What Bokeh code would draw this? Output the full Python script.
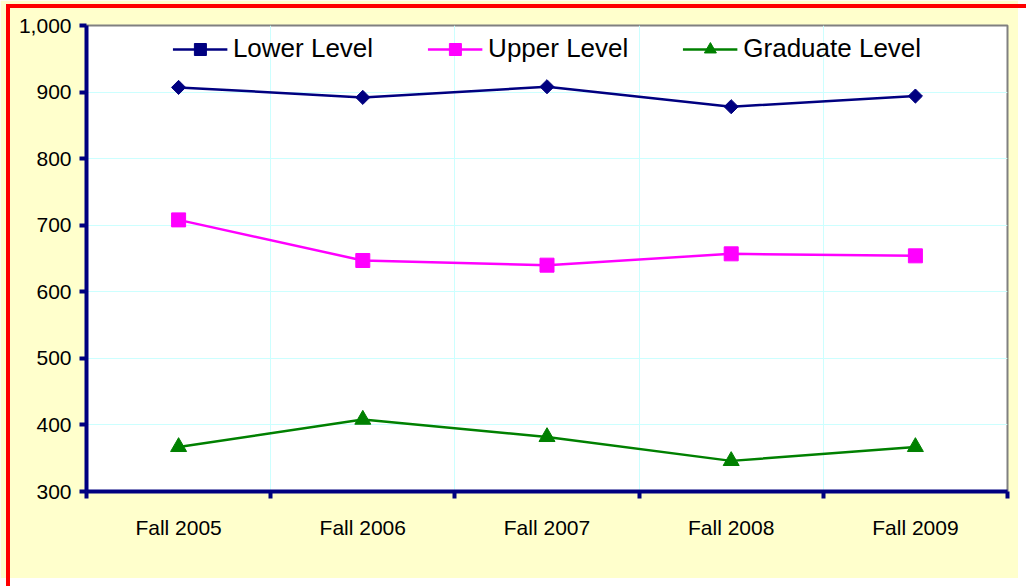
from bokeh.plotting import figure
from bokeh.models import (Range1d, FixedTicker, NumeralTickFormatter, Legend,
                          LegendItem)
from bokeh.embed import file_html
from bokeh.resources import INLINE

categories = ["Fall 2005", "Fall 2006", "Fall 2007", "Fall 2008", "Fall 2009"]
lower_level = [907, 892, 908, 878, 894]
upper_level = [708, 647, 640, 657, 654]
graduate_level = [367, 408, 382, 346, 367]
y_ticks = [300, 400, 500, 600, 700, 800, 900, 1000]

xs = [i + 0.5 for i in range(len(categories))]
bounds = [i for i in range(len(categories) + 1)]

FONT = "Liberation Sans"
NAVY = "#000080"

p = figure(width=1018, height=578, output_backend="svg", toolbar_location=None,
           x_range=Range1d(0, len(categories)), y_range=Range1d(300, 1000),
           min_border_left=86, min_border_top=25, min_border_right=11,
           min_border_bottom=87)
p.border_fill_color = "#FFFFCC"
p.background_fill_color = "#FFFFFF"
p.outline_line_color = "#808080"
p.outline_line_width = 2

# x axis: labels at category centres, ticks at boundaries (minor ticks)
xt = FixedTicker(ticks=xs, minor_ticks=bounds)
p.xaxis.ticker = xt
p.xaxis.major_label_overrides = {x: c for x, c in zip(xs, categories)}
p.xaxis.major_tick_line_color = None
p.xaxis.major_tick_out = 0
p.xaxis.major_tick_in = 0
p.xaxis.minor_tick_line_color = NAVY
p.xaxis.minor_tick_line_width = 4
p.xaxis.minor_tick_out = 7
p.xaxis.minor_tick_in = 0
p.xaxis.major_label_standoff = 17
p.xaxis.axis_line_color = NAVY
p.xaxis.axis_line_width = 4
p.xaxis.major_label_text_font = FONT
p.xaxis.major_label_text_font_size = "21px"
p.xaxis.major_label_text_color = "#000000"

p.yaxis.ticker = FixedTicker(ticks=y_ticks)
p.yaxis.formatter = NumeralTickFormatter(format="0,0")
p.yaxis.major_tick_line_color = NAVY
p.yaxis.major_tick_line_width = 4
p.yaxis.major_tick_out = 7
p.yaxis.major_tick_in = 0
p.yaxis.minor_tick_line_color = None
p.yaxis.axis_line_color = NAVY
p.yaxis.axis_line_width = 4
p.yaxis.major_label_standoff = 8
p.yaxis.major_label_text_font = FONT
p.yaxis.major_label_text_font_size = "21px"
p.yaxis.major_label_text_color = "#000000"

p.xgrid.ticker = xt
p.xgrid.grid_line_color = None
p.xgrid.minor_grid_line_color = "#CCFFFF"
p.xgrid.minor_grid_line_width = 1
p.ygrid.grid_line_color = "#CCFFFF"
p.ygrid.grid_line_width = 1

r1l = p.line(xs, lower_level, line_color=NAVY, line_width=2.5)
r1m = p.scatter(xs, lower_level, marker="square", angle=0.785398, size=10,
                fill_color=NAVY, line_color=NAVY)
r2l = p.line(xs, upper_level, line_color="#FF00FF", line_width=2.5)
r2m = p.scatter(xs, upper_level, marker="square", size=14,
                fill_color="#FF00FF", line_color="#FF00FF")
r3l = p.line(xs, graduate_level, line_color="#008000", line_width=2.5)
r3m = p.scatter(xs, graduate_level, marker="triangle", size=16,
                fill_color="#008000", line_color="#008000")

legend = Legend(items=[
    LegendItem(label="Lower Level", renderers=[r1l, r1m]),
    LegendItem(label="Upper Level", renderers=[r2l, r2m]),
    LegendItem(label="Graduate Level", renderers=[r3l, r3m]),
], location="top_center", orientation="horizontal")
legend.padding = 0
legend.margin = 8
legend.spacing = 54
legend.glyph_width = 55
legend.glyph_height = 30
legend.label_standoff = 6
legend.label_text_font = FONT
legend.label_text_font_size = "26px"
legend.label_text_color = "#000000"
legend.background_fill_alpha = 0
legend.border_line_color = None
p.add_layout(legend, "center")

page_css = """
{% block postamble %}
<style>
body::before { content: ""; position: fixed; left: 6px; top: 4px; width: 4px;
  height: 100%; background: #FF0000; z-index: 10; }
body::after { content: ""; position: fixed; left: 6px; top: 4px; height: 4px;
  width: 100%; background: #FF0000; z-index: 10; }
</style>
{% endblock %}
"""

open("out.html", "w").write(file_html(p, INLINE, template=page_css))
